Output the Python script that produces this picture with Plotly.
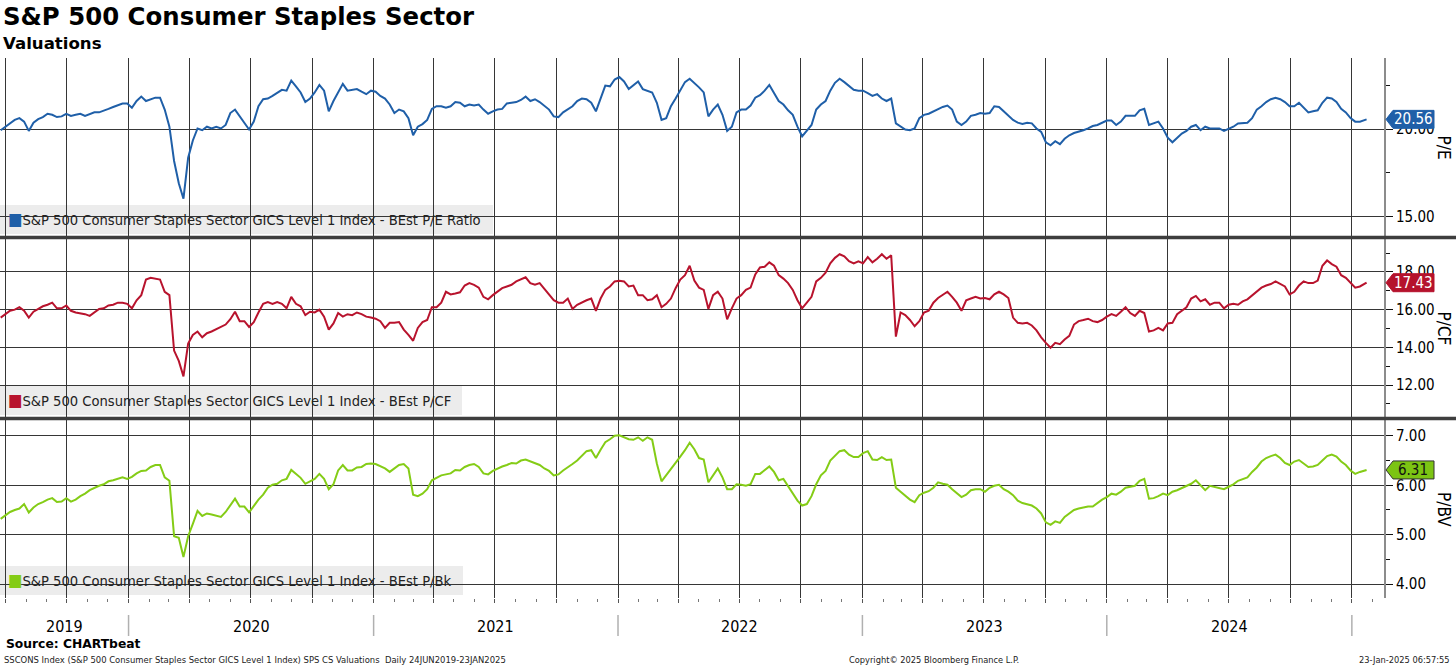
import plotly.graph_objects as go
import pandas as pd

# ---------------- data (weekly readings, 24 Jun 2019 .. 23 Jan 2025) ----------------
pe = [19.94, 20.14, 20.33, 20.53, 20.63, 20.43, 19.90, 20.37, 20.57, 20.69,
      20.88, 20.82, 20.69, 20.73, 20.88, 20.76, 20.82, 20.88, 20.76, 20.88,
      20.96, 20.96, 21.08, 21.16, 21.27, 21.35, 21.47, 21.47, 21.22, 21.61,
      21.86, 21.61, 21.71, 21.80, 21.80, 21.12, 20.14, 18.18, 16.90, 16.02,
      18.37, 19.35, 20.04, 19.94, 20.14, 20.04, 20.14, 20.04, 20.24, 20.92,
      21.12, 20.73, 20.33, 19.98, 20.43, 21.31, 21.71, 21.75, 21.90, 22.10,
      22.25, 22.20, 22.78, 22.45, 22.10, 21.55, 21.75, 22.10, 22.53, 22.20,
      21.02, 21.61, 22.10, 22.59, 22.20, 22.25, 22.29, 22.14, 22.00, 22.20,
      22.14, 21.90, 21.75, 21.41, 20.92, 21.12, 21.02, 20.63, 19.65, 20.14,
      20.29, 20.53, 21.16, 21.31, 21.31, 21.22, 21.31, 21.55, 21.51, 21.31,
      21.41, 21.35, 21.41, 21.12, 20.88, 21.02, 21.12, 21.16, 21.47, 21.51,
      21.55, 21.67, 21.86, 21.61, 21.71, 21.55, 21.35, 21.12, 20.73, 20.69,
      20.96, 21.12, 21.31, 21.61, 21.75, 21.71, 21.51, 21.02, 21.80, 22.49,
      22.45, 22.84, 22.98, 22.73, 22.29, 22.49, 22.73, 22.29, 22.20, 22.10,
      21.51, 20.53, 20.63, 21.31, 21.75, 22.20, 22.69, 22.88, 22.65, 22.39,
      22.10, 20.73, 21.12, 21.41, 20.82, 19.90, 20.14, 20.96, 21.12, 21.12,
      21.35, 21.80, 21.94, 22.20, 22.53, 22.10, 21.61, 21.41, 21.08, 20.82,
      20.14, 19.59, 19.90, 20.24, 21.12, 21.41, 21.61, 22.20, 22.65, 22.88,
      22.69, 22.45, 22.25, 22.20, 22.20, 22.06, 21.90, 22.00, 21.75, 21.61,
      21.75, 20.33, 20.14, 19.98, 19.94, 20.04, 20.63, 20.82, 20.88, 21.02,
      21.12, 21.27, 21.35, 21.12, 20.43, 20.24, 20.43, 20.76, 20.82, 20.92,
      20.88, 20.92, 21.31, 21.27, 21.02, 20.76, 20.53, 20.37, 20.29, 20.37,
      20.33, 20.04, 19.84, 19.25, 19.08, 19.31, 19.14, 19.45, 19.65, 19.78,
      19.84, 19.94, 20.04, 20.18, 20.24, 20.37, 20.49, 20.49, 20.24, 20.43,
      20.76, 20.76, 20.76, 21.08, 21.16, 20.24, 20.33, 20.43, 20.04, 19.51,
      19.25, 19.51, 19.75, 19.90, 20.14, 20.24, 19.94, 20.14, 20.04, 20.04,
      20.04, 19.90, 20.04, 20.14, 20.33, 20.37, 20.37, 20.63, 21.12, 21.31,
      21.55, 21.71, 21.80, 21.71, 21.55, 21.31, 21.31, 21.51, 21.22, 20.96,
      21.02, 21.08, 21.51, 21.80, 21.75, 21.55, 21.16, 20.96, 20.63, 20.43,
      20.43, 20.56]

pcf = [15.58, 15.76, 15.94, 16.00, 16.13, 15.94, 15.58, 15.89, 16.04, 16.18,
       16.26, 16.37, 16.07, 16.07, 16.22, 15.94, 15.85, 15.82, 15.76, 15.67,
       15.85, 16.04, 16.07, 16.22, 16.26, 16.37, 16.37, 16.31, 16.07, 16.50,
       16.77, 17.60, 17.69, 17.65, 17.60, 16.95, 16.77, 13.83, 13.28, 12.46,
       14.20, 14.66, 14.84, 14.53, 14.75, 14.84, 14.97, 15.12, 15.21, 15.49,
       15.89, 15.39, 15.39, 15.08, 15.34, 15.85, 16.31, 16.40, 16.31, 16.40,
       16.31, 16.07, 16.68, 16.31, 16.18, 15.71, 15.89, 15.85, 16.00, 15.63,
       14.94, 15.27, 15.82, 15.63, 15.76, 15.71, 15.85, 15.76, 15.63, 15.58,
       15.52, 15.39, 15.03, 15.30, 15.30, 15.34, 14.94, 14.66, 14.35, 15.03,
       15.34, 15.45, 16.13, 16.13, 16.37, 16.95, 16.81, 16.86, 16.92, 17.28,
       17.41, 17.32, 17.17, 16.68, 16.55, 16.77, 16.95, 17.14, 17.23, 17.32,
       17.50, 17.60, 17.72, 17.41, 17.32, 17.41, 17.10, 16.77, 16.50, 16.37,
       16.37, 16.59, 16.04, 16.26, 16.40, 16.50, 16.59, 15.94, 16.59, 17.05,
       17.23, 17.50, 17.54, 17.50, 17.23, 17.28, 16.77, 16.77, 16.50, 16.55,
       16.77, 16.13, 16.31, 16.59, 17.14, 17.60, 17.83, 18.33, 17.54, 17.17,
       17.05, 16.04, 16.77, 16.95, 16.59, 15.49, 16.07, 16.59, 16.77, 17.05,
       17.17, 17.87, 18.24, 18.28, 18.51, 18.33, 17.83, 17.65, 17.41, 17.05,
       16.50, 16.07, 16.37, 16.68, 17.50, 17.69, 17.96, 18.46, 18.75, 18.94,
       18.83, 18.57, 18.46, 18.57, 18.46, 18.79, 18.51, 18.70, 18.94, 18.70,
       18.88, 14.57, 15.85, 15.71, 15.45, 15.12, 15.39, 15.85, 15.94, 16.37,
       16.62, 16.77, 16.95, 16.68, 16.37, 15.94, 16.50, 16.59, 16.68, 16.59,
       16.62, 16.55, 16.81, 16.95, 16.81, 16.62, 15.58, 15.30, 15.27, 15.30,
       15.16, 14.90, 14.53, 14.24, 13.98, 14.24, 14.17, 14.42, 14.61, 15.21,
       15.39, 15.45, 15.52, 15.39, 15.34, 15.45, 15.63, 15.76, 15.67, 15.89,
       16.13, 15.82, 15.67, 15.94, 15.82, 14.84, 14.90, 15.03, 14.90, 15.27,
       15.30, 15.76, 15.94, 16.13, 16.59, 16.73, 16.44, 16.55, 16.26, 16.37,
       16.37, 16.07, 16.26, 16.31, 16.26, 16.44, 16.55, 16.77, 16.99, 17.17,
       17.28, 17.36, 17.50, 17.36, 17.23, 16.81, 16.95, 17.28, 17.50, 17.41,
       17.41, 17.54, 18.33, 18.61, 18.42, 18.28, 17.83, 17.69, 17.41, 17.17,
       17.23, 17.43]

pbv = [5.32, 5.39, 5.46, 5.50, 5.53, 5.62, 5.45, 5.55, 5.62, 5.66,
       5.71, 5.74, 5.66, 5.67, 5.74, 5.67, 5.71, 5.78, 5.83, 5.90,
       5.95, 5.99, 6.02, 6.08, 6.10, 6.13, 6.16, 6.13, 6.17, 6.24,
       6.29, 6.30, 6.37, 6.41, 6.41, 6.16, 6.09, 4.97, 4.94, 4.55,
       4.97, 5.22, 5.48, 5.38, 5.43, 5.41, 5.38, 5.36, 5.46, 5.59,
       5.73, 5.57, 5.57, 5.45, 5.59, 5.71, 5.81, 5.95, 6.01, 6.03,
       6.10, 6.13, 6.31, 6.22, 6.15, 6.03, 6.08, 6.13, 6.23, 6.13,
       5.92, 6.02, 6.30, 6.41, 6.30, 6.30, 6.36, 6.37, 6.43, 6.44,
       6.43, 6.38, 6.34, 6.27, 6.34, 6.41, 6.43, 6.34, 5.81, 5.78,
       5.83, 5.92, 6.10, 6.15, 6.20, 6.22, 6.24, 6.31, 6.30, 6.37,
       6.41, 6.43, 6.37, 6.24, 6.22, 6.29, 6.34, 6.38, 6.41, 6.45,
       6.44, 6.50, 6.52, 6.48, 6.44, 6.41, 6.34, 6.29, 6.20, 6.22,
       6.30, 6.36, 6.43, 6.50, 6.59, 6.69, 6.71, 6.55, 6.72, 6.87,
       6.93, 7.00, 7.01, 6.97, 6.93, 6.92, 6.97, 6.90, 6.97, 6.92,
       6.44, 6.08, 6.20, 6.34, 6.44, 6.58, 6.71, 6.86, 6.73, 6.55,
       6.52, 6.06, 6.20, 6.34, 6.16, 5.92, 5.92, 6.02, 6.01, 5.99,
       6.02, 6.23, 6.23, 6.30, 6.38, 6.27, 6.10, 6.13, 5.99, 5.85,
       5.69, 5.59, 5.62, 5.78, 6.02, 6.20, 6.29, 6.50, 6.59, 6.69,
       6.71, 6.62, 6.57, 6.57, 6.65, 6.69, 6.52, 6.51, 6.57, 6.51,
       6.52, 5.95, 5.87, 5.78, 5.71, 5.66, 5.80, 5.85, 5.88, 5.95,
       6.06, 6.03, 6.01, 5.92, 5.83, 5.76, 5.81, 5.90, 5.92, 5.92,
       5.87, 5.95, 5.99, 6.01, 5.92, 5.87, 5.80, 5.69, 5.64, 5.62,
       5.59, 5.53, 5.43, 5.25, 5.20, 5.27, 5.24, 5.36, 5.43, 5.50,
       5.53, 5.55, 5.57, 5.57, 5.64, 5.71, 5.76, 5.83, 5.81, 5.87,
       5.95, 5.97, 5.99, 6.09, 6.13, 5.73, 5.74, 5.78, 5.83, 5.80,
       5.87, 5.90, 5.94, 5.99, 6.03, 6.10, 6.01, 5.90, 5.99, 5.97,
       5.95, 5.92, 5.97, 6.02, 6.09, 6.13, 6.16, 6.27, 6.36, 6.48,
       6.55, 6.59, 6.62, 6.55, 6.45, 6.41, 6.48, 6.51, 6.44, 6.37,
       6.38, 6.41, 6.50, 6.59, 6.62, 6.58, 6.48, 6.41, 6.30, 6.23,
       6.27, 6.31]

series_names = ["S&P 500 Consumer Staples Sector GICS Level 1 Index - BEst P/E Ratio",
                "S&P 500 Consumer Staples Sector GICS Level 1 Index - BEst P/CF",
                "S&P 500 Consumer Staples Sector GICS Level 1 Index - BEst P/Bk"]
axis_titles = ["P/E", "P/CF", "P/BV"]
year_labels = ["2019", "2020", "2021", "2022", "2023", "2024"]
y_ticks = [[15, 20], [12, 14, 16, 18], [4, 5, 6, 7]]
y_minor = [[17.5, 22.5], [11, 13, 15, 17, 19], [4.5, 5.5, 6.5]]
y_ranges = [[13.83, 24.07], [10.25, 19.75], [3.72, 7.32]]
x_range = ["2019-06-23", "2025-02-18"]
start_date = "2019-06-24"
end_date = "2025-01-23"

# ---------------- style / geometry ----------------
W, H = 1456, 665
PL, PR, PT, PB = 0, 1384, 58, 598          # plot area in pixels
BLUE, RED, GREEN = "#1f5fa8", "#b8132d", "#84cc16"
BOX = ["#1f5fa8", "#b5122c", "#7cc413"]
BOX_TXT = ["white", "white", "#111111"]
COLORS = [BLUE, RED, GREEN]
FONT = "DejaVu Sans Condensed, DejaVu Sans, sans-serif"
BFONT = "DejaVu Sans, sans-serif"
GRID = "#363636"


def fx(px):
    return (px - PL) / (PR - PL)


def fy(py):
    return (PB - py) / (PB - PT)


def mkdates(n):
    d = list(pd.date_range(start_date, periods=n - 1, freq="7D"))
    return d + [pd.Timestamp(end_date)]


quarters = list(pd.date_range("2019-07-01", "2025-01-01", freq="QS"))
year_starts = [pd.Timestamp(f"{int(y) + 1}-01-01") for y in year_labels]

# panel pixel boundaries (top, bottom)
panels = [(58, 237), (239, 418), (420, 598)]

fig = go.Figure()
data = [pe, pcf, pbv]
for i, vals in enumerate(data):
    sfx = "" if i == 0 else str(i + 1)
    fig.add_trace(go.Scatter(x=mkdates(len(vals)), y=vals, mode="lines",
                             line=dict(color=COLORS[i], width=2),
                             xaxis="x" + sfx, yaxis="y" + sfx,
                             showlegend=False, hoverinfo="x+y"))

layout = dict(width=W, height=H, margin=dict(l=PL, r=W - PR, t=PT, b=H - PB),
              paper_bgcolor="white", plot_bgcolor="white", showlegend=False,
              font=dict(family=FONT, size=13, color="black"))

for i in range(3):
    sfx = "" if i == 0 else str(i + 1)
    top, bot = panels[i]
    xa = dict(domain=[0, 1], range=x_range, type="date", anchor="y" + sfx,
              tickmode="array", tickvals=quarters, showticklabels=False,
              showgrid=True, gridcolor=GRID, gridwidth=1, zeroline=False,
              showline=False, ticks="")
    if i > 0:
        xa["matches"] = "x"
    if i == 2:
        xa.update(ticks="outside", ticklen=4, tickcolor="#555", tickwidth=1,
                  minor=dict(dtick="M1", tick0="2019-07-01", ticks="outside",
                             ticklen=3, tickcolor="#777", showgrid=False))
    ya = dict(domain=[fy(bot), fy(top)], range=y_ranges[i], side="right",
              anchor="x" + sfx, tickmode="array", tickvals=y_ticks[i],
              tickformat=".2f", ticks="outside", ticklen=7, tickcolor="#111",
              tickwidth=1, showline=True, linecolor="#8c8c8c", linewidth=2,
              showgrid=True, gridcolor=GRID, gridwidth=1, zeroline=False,
              tickfont=dict(family=FONT, size=15, color="black"),
              minor=dict(tickmode="array", tickvals=y_minor[i], ticks="outside",
                         ticklen=4, tickcolor="#111", showgrid=False))
    layout["xaxis" + sfx] = xa
    layout["yaxis" + sfx] = ya

fig.update_layout(**layout)

shapes = []
ann = []

# legend boxes and texts
legend_box_right = [493, 462, 463]
for i in range(3):
    top, bot = panels[i]
    shapes.append(dict(type="rect", xref="paper", yref="paper", layer="below",
                       x0=fx(0), x1=fx(legend_box_right[i]),
                       y0=fy(bot - 3), y1=fy(bot - 32),
                       fillcolor="#ececec", line=dict(width=0)))
    ann.append(dict(xref="paper", yref="paper", x=fx(6), y=fy(bot - 18),
                    xanchor="left", yanchor="middle", showarrow=False,
                    text=f'<span style="color:{COLORS[i]};font-size:17px">■</span>{series_names[i]}',
                    font=dict(family=FONT, size=14.6, color="#222")))
    # axis title on the right
    ann.append(dict(xref="paper", yref="paper", x=fx(1444), y=fy((top + bot) / 2),
                    xanchor="center", yanchor="middle", showarrow=False,
                    text=axis_titles[i], textangle=90,
                    font=dict(family=FONT, size=17, color="black")))
    # last-value tag
    sfx = "" if i == 0 else str(i + 1)
    last = data[i][-1]
    shapes.append(dict(type="path", xref="paper", yref="y" + sfx,
                       xsizemode="pixel", ysizemode="pixel",
                       xanchor=1.0, yanchor=last,
                       path="M 2,0 L 9,-9 L 50,-9 L 50,9 L 9,9 Z",
                       fillcolor=BOX[i], line=dict(color="#333" if i == 2 else BOX[i], width=1),
                       layer="above"))
    ann.append(dict(xref="paper", yref="y" + sfx, x=fx(1413), y=last,
                    xanchor="center", yanchor="middle", showarrow=False,
                    text=f"{last:.2f}",
                    font=dict(family=FONT, size=15, color=BOX_TXT[i])))

# thick separators between panels
for ysep in (237.5, 418.5):
    shapes.append(dict(type="line", xref="paper", yref="paper", layer="above",
                       x0=0, x1=W / (PR - PL), y0=fy(ysep), y1=fy(ysep),
                       line=dict(color="#3e3e3e", width=3.5)))

# year separators & labels below the bottom panel
for ys in year_starts:
    shapes.append(dict(type="line", xref="x3", yref="paper", x0=ys, x1=ys,
                       y0=fy(615), y1=fy(636), line=dict(color="#b0b0b0", width=1.5)))
x0_date = pd.Timestamp(x_range[0])
for j, yl in enumerate(year_labels):
    if j == 0:
        xpos = x0_date + (pd.Timestamp("2020-01-01") - x0_date) / 2
    else:
        xpos = pd.Timestamp(f"{yl}-07-02")
    ann.append(dict(xref="x3", yref="paper", x=xpos, y=fy(626), xanchor="center",
                    yanchor="middle", showarrow=False, text=yl,
                    font=dict(family=FONT, size=16, color="black")))

# titles and footer
ann.append(dict(xref="paper", yref="paper", x=fx(1), y=fy(17), xanchor="left",
                yanchor="middle", showarrow=False,
                text="<b>S&P 500 Consumer Staples Sector</b>",
                font=dict(family=BFONT, size=24.4, color="black")))
ann.append(dict(xref="paper", yref="paper", x=fx(1), y=fy(43), xanchor="left",
                yanchor="middle", showarrow=False, text="<b>Valuations</b>",
                font=dict(family=BFONT, size=16.6, color="black")))
ann.append(dict(xref="paper", yref="paper", x=fx(4), y=fy(644), xanchor="left",
                yanchor="middle", showarrow=False, text="<b>Source: CHARTbeat</b>",
                font=dict(family=BFONT, size=12.3, color="black")))
ann.append(dict(xref="paper", yref="paper", x=fx(2), y=fy(659), xanchor="left",
                yanchor="middle", showarrow=False,
                text="SSCONS Index (S&P 500 Consumer Staples Sector GICS Level 1 Index) SPS CS Valuations&nbsp;&nbsp;Daily 24JUN2019-23JAN2025",
                font=dict(family=FONT, size=9.4, color="#222")))
ann.append(dict(xref="paper", yref="paper", x=fx(847), y=fy(659), xanchor="left",
                yanchor="middle", showarrow=False,
                text="Copyright© 2025 Bloomberg Finance L.P.",
                font=dict(family=FONT, size=9.2, color="#222")))
ann.append(dict(xref="paper", yref="paper", x=fx(1452), y=fy(659), xanchor="right",
                yanchor="middle", showarrow=False, text="23-Jan-2025 06:57:55",
                font=dict(family=FONT, size=9.2, color="#222")))

fig.update_layout(shapes=shapes, annotations=ann)

fig.write_html("out.html", config={"displayModeBar": False},
               post_script="document.body.style.margin='0px';document.body.style.overflow='hidden';")
